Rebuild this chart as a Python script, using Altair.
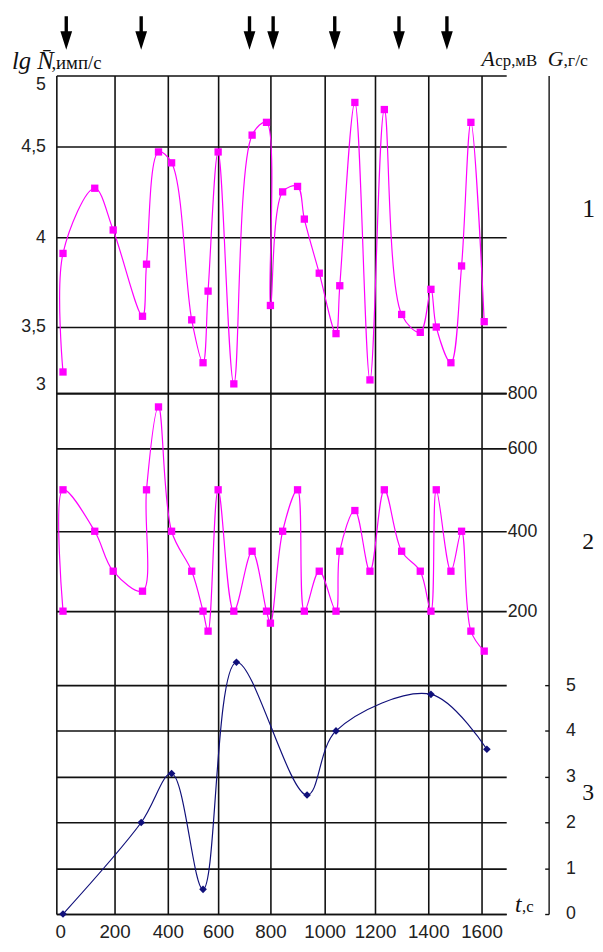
import altair as alt
import pandas as pd

# ---------------- data ----------------
T = [10, 10, 127, 195, 305, 320, 365, 415, 495, 540, 560, 600, 660, 730, 785, 800,
     845, 900, 925, 980, 1045, 1060, 1120, 1180, 1235, 1300, 1370, 1410, 1430, 1485,
     1525, 1560, 1610]
LGN = [3.16, 3.91, 4.27, 4.04, 3.56, 3.85, 4.47, 4.41, 3.54, 3.23, 3.70, 4.47, 3.07,
       4.58, 4.67, 3.62, 4.25, 4.28, 4.10, 3.80, 3.45, 3.73, 4.81, 3.10, 4.76, 3.57,
       3.46, 3.71, 3.50, 3.23, 3.84, 4.67, 3.53]
A_MV = [200, 500, 400, 300, 250, 500, 750, 400, 300, 200, 150, 500, 200, 350, 200, 170,
        400, 500, 200, 300, 200, 350, 450, 300, 500, 350, 300, 200, 500, 300, 400, 150,
        100]
T_G = [10, 300, 415, 540, 670, 935, 1045, 1410, 1620]
G = [0.0, 2.0, 3.07, 0.54, 5.5, 2.6, 4.0, 4.8, 3.6]
T_ARROWS = [22, 300, 720, 810, 1040, 1290, 1470]

X_TICKS = [0, 200, 400, 600, 800, 1000, 1200, 1400, 1600]
LGN_TICKS = [3, 3.5, 4, 4.5, 5]
A_TICKS = [200, 400, 600, 800]
G_TICKS = [0, 1, 2, 3, 4, 5]

LBL_LG = ["lg N\u0304"]
LBL_LG_UNIT = [",имп/с"]
LBL_A = ["A"]
LBL_A_UNIT = ["ср,мВ"]
LBL_G = ["G"]
LBL_G_UNIT = [",г/с"]
LBL_T = ["t"]
LBL_T_UNIT = [",c"]
CURVE_NUMS = ["1", "2", "3"]

# ---------------- scale calibration (hand-drawn grid spacing) ----------------
X_DOMAIN = [-14.5, 0, 200, 400, 600, 800, 1000, 1200, 1400, 1600, 1692.6]
X_RANGE = [0, 4, 59, 113, 164, 217, 272, 323, 377, 431, 456]
LGN_DOMAIN = [-0.94, 3, 3.5, 4, 4.5, 5]
LGN_RANGE = [850, 322, 255, 164, 72, 0]
A_DOMAIN = [-558, 200, 400, 600, 800, 1950]
A_RANGE = [850, 543, 462, 378, 322, 0]
G_DOMAIN = [0, 5, 18.32]
G_RANGE = [850, 618, 0]

INK = "#111111"
MAGENTA = "#ff00ff"
NAVY = "#10107a"
SANS = "Liberation Sans"
SERIF = "Liberation Serif"

df1 = pd.DataFrame({"t": T, "v": LGN, "i": range(len(T))})
df2 = pd.DataFrame({"t": T, "v": A_MV, "i": range(len(T))})
df3 = pd.DataFrame({"t": T_G, "v": G, "i": range(len(T_G))})
dfa = pd.DataFrame({"t": T_ARROWS})

x_axis = alt.Axis(
    values=X_TICKS, title=None, format="d",
    grid=True, gridColor=INK, gridWidth=1.6,
    gridOpacity={"condition": {"test": "datum.value === 0", "value": 0}, "value": 1},
    domain=True, domainColor=INK, domainWidth=1.6, ticks=False,
    labelFont=SANS, labelFontSize=19, labelColor="#222", labelPadding=9,
    labelOverlap=False, labelFlush=False,
)
x_scale = alt.Scale(domain=X_DOMAIN, range=X_RANGE, nice=False, zero=False)


def X():
    return alt.X("t:Q", scale=x_scale, axis=x_axis)


def yscale(dom, rng):
    return alt.Scale(domain=dom, range=rng, nice=False, zero=False)


lgn_axis = alt.Axis(
    orient="left", values=LGN_TICKS, format=".1~f",
    labelExpr="replace(datum.label, '.', ',')", title=None,
    grid=True, gridColor=INK, gridWidth=1.6,
    domain=True, domainColor=INK, domainWidth=1.6, ticks=False,
    labelFont=SANS, labelFontSize=18, labelColor="#222", labelPadding=11,
    labelBaseline={"condition": [{"test": "datum.value === 5", "value": "top"},
                                 {"test": "datum.value === 3", "value": "bottom"}],
                   "value": "middle"},
)
a_axis = alt.Axis(
    orient="right", values=A_TICKS, format="d", title=None,
    grid=True, gridColor=INK, gridWidth=1.6,
    domain=False, ticks=False,
    labelFont=SANS, labelFontSize=18, labelColor="#222", labelPadding=1,
)
g_tick_axis = alt.Axis(
    orient="right", offset=39, values=G_TICKS, title=None,
    grid=True, gridColor=INK, gridWidth=1.6,
    domain=False, ticks=True, tickSize=4, tickWidth=1.4, tickColor=INK,
    labels=False,
)
g_label_axis = alt.Axis(
    orient="right", offset=43, values=G_TICKS, format="d", title=None,
    grid=False, domain=True, domainColor=INK, domainWidth=1.4, ticks=False,
    labelFont=SANS, labelFontSize=18, labelColor="#222", labelPadding=17,
)

line1 = alt.Chart(df1).mark_line(color=MAGENTA, strokeWidth=1.2, interpolate="catmull-rom").encode(
    x=X(), y=alt.Y("v:Q", scale=yscale(LGN_DOMAIN, LGN_RANGE), axis=lgn_axis), order="i:Q")
pts1 = alt.Chart(df1).mark_point(shape="square", filled=True, color=MAGENTA, size=55, opacity=1).encode(
    x=X(), y=alt.Y("v:Q", scale=yscale(LGN_DOMAIN, LGN_RANGE), axis=None))

line2 = alt.Chart(df2).mark_line(color=MAGENTA, strokeWidth=1.2, interpolate="catmull-rom").encode(
    x=X(), y=alt.Y("v:Q", scale=yscale(A_DOMAIN, A_RANGE), axis=a_axis), order="i:Q")
pts2 = alt.Chart(df2).mark_point(shape="square", filled=True, color=MAGENTA, size=55, opacity=1).encode(
    x=X(), y=alt.Y("v:Q", scale=yscale(A_DOMAIN, A_RANGE), axis=None))

line3 = alt.Chart(df3).mark_line(color=NAVY, strokeWidth=1.2, interpolate="catmull-rom").encode(
    x=X(), y=alt.Y("v:Q", scale=yscale(G_DOMAIN, G_RANGE), axis=g_tick_axis), order="i:Q")
pts3 = alt.Chart(df3).mark_point(shape="diamond", filled=True, color=NAVY, size=60, opacity=1).encode(
    x=X(), y=alt.Y("v:Q", scale=yscale(G_DOMAIN, G_RANGE), axis=g_label_axis))

ARROW = "M-0.1,-1 L0.1,-1 L0.1,-0.1 L0.35,-0.1 L0,1 L-0.35,-0.1 L-0.1,-0.1 Z"
arrows = alt.Chart(dfa).mark_point(shape=ARROW, filled=True, color="#000", size=1156,
                                   opacity=1, strokeWidth=0).encode(x=X(), y=alt.value(-43))


def label(texts, x, y, size, font=SERIF, style="normal", align="left", idx=0):
    d = pd.DataFrame({"s": [texts[idx]]})
    return alt.Chart(d).mark_text(font=font, fontSize=size, fontStyle=style, align=align,
                                  baseline="alphabetic", color="#111").encode(
        text="s:N", x=alt.value(x), y=alt.value(y))


texts = [
    label(LBL_LG, -45, -7, 25, style="italic"),
    label(LBL_LG_UNIT, -5, -7, 19),
    label(LBL_A, 431, -10, 22, style="italic"),
    label(LBL_A_UNIT, 445, -10, 17),
    label(LBL_G, 498, -10, 22, style="italic"),
    label(LBL_G_UNIT, 514, -10, 18),
    label(LBL_T, 465, 848, 24, style="italic"),
    label(LBL_T_UNIT, 472, 848, 17),
    label(CURVE_NUMS, 533, 143, 26, idx=0),
    label(CURVE_NUMS, 533, 480, 24, idx=1),
    label(CURVE_NUMS, 533, 734, 24, idx=2),
]

chart = alt.layer(line1, pts1, line2, pts2, line3, pts3, arrows, *texts).resolve_scale(
    y="independent"
).properties(
    width=456, height=850,
    autosize=alt.AutoSizeParams(type="none"),
    padding={"left": 49, "top": 62, "right": 90, "bottom": 24},
    background="white",
).configure_view(stroke=None)

chart.save("out.html", embed_options={"renderer": "svg", "actions": False})
